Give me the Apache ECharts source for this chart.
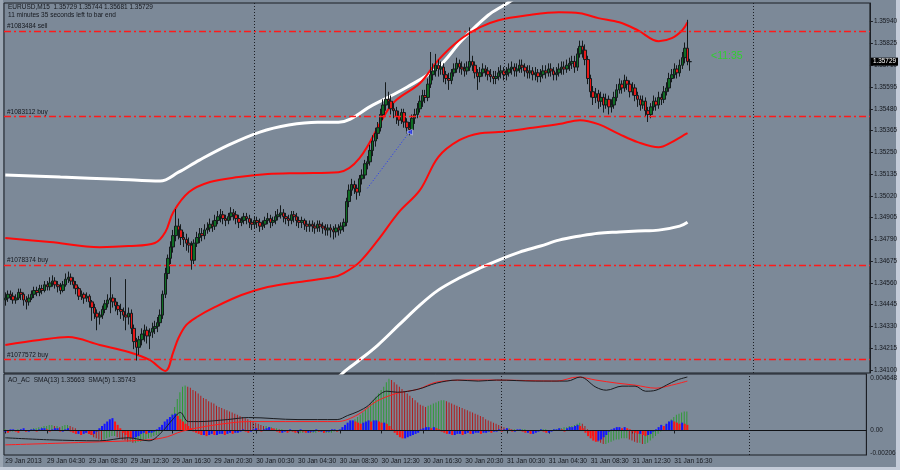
<!DOCTYPE html>
<html><head><meta charset="utf-8">
<script src="https://cdn.jsdelivr.net/npm/echarts@6/dist/echarts.min.js"></script>
<style>html,body{margin:0;padding:0;background:#aeb8c4;}#c{width:900px;height:470px;}</style>
</head><body><div id="c"></div><script>
// ---------- data ----------
const timeLabels = ['29 Jan 2013','29 Jan 04:30','29 Jan 08:30','29 Jan 12:30','29 Jan 16:30','29 Jan 20:30','30 Jan 00:30','30 Jan 04:30','30 Jan 08:30','30 Jan 12:30','30 Jan 16:30','30 Jan 20:30','31 Jan 00:30','31 Jan 04:30','31 Jan 08:30','31 Jan 12:30','31 Jan 16:30'];
const priceTicks = [1.35940,1.35825,1.35710,1.35595,1.35480,1.35365,1.35250,1.35135,1.35020,1.34905,1.34790,1.34675,1.34560,1.34445,1.34330,1.34215,1.34100];
const indTicks = [0.004648, 0, -0.00206];
const indTickLabels = ['0.004648','0.00','-0.00206'];
const lastPrice = 1.35729;
const orderLevels = [1.35892, 1.35438, 1.34655, 1.34156];
const orderLabels = ['#1083484 sell','#1083112 buy','#1078374 buy','#1077572 buy'];
const daySeparators = [95, 190, 285];
// [open, close, low, high]
const ohlc = [
[1.3447,1.3448,1.3444,1.3451],[1.3448,1.3450,1.3446,1.3452],[1.3450,1.3449,1.3447,1.3452],[1.3449,1.3447,1.3445,1.3451],[1.3447,1.3448,1.3445,1.3450],
[1.3448,1.3451,1.3447,1.3453],[1.3451,1.3450,1.3447,1.3453],[1.3450,1.3447,1.3444,1.3451],[1.3447,1.3446,1.3442,1.3449],[1.3446,1.3448,1.3444,1.3450],
[1.3448,1.3450,1.3447,1.3452],[1.3450,1.3452,1.3448,1.3454],[1.3452,1.3451,1.3449,1.3454],[1.3451,1.3453,1.3449,1.3455],[1.3453,1.3452,1.3450,1.3455],
[1.3452,1.3455,1.3451,1.3457],[1.3455,1.3454,1.3452,1.3457],[1.3454,1.3456,1.3452,1.3459],[1.3456,1.3457,1.3454,1.3460],[1.3457,1.3455,1.3453,1.3459],
[1.3455,1.3454,1.3451,1.3457],[1.3454,1.3452,1.3450,1.3456],[1.3452,1.3455,1.3451,1.3457],[1.3455,1.3458,1.3454,1.3461],[1.3458,1.3459,1.3456,1.3462],
[1.3459,1.3457,1.3455,1.3461],[1.3457,1.3455,1.3453,1.3459],[1.3455,1.3453,1.3450,1.3457],[1.3453,1.3449,1.3447,1.3454],[1.3449,1.3450,1.3447,1.3452],
[1.3450,1.3448,1.3445,1.3451],[1.3448,1.3449,1.3446,1.3451],[1.3449,1.3446,1.3443,1.3450],[1.3446,1.3443,1.3436,1.3447],[1.3443,1.3440,1.3437,1.3445],
[1.3440,1.3438,1.3431,1.3442],[1.3438,1.3439,1.3434,1.3441],[1.3439,1.3442,1.3437,1.3444],[1.3442,1.3445,1.3440,1.3447],[1.3445,1.3447,1.3443,1.3450],
[1.3447,1.3448,1.3440,1.3459],[1.3448,1.3446,1.3443,1.3450],[1.3446,1.3444,1.3441,1.3448],[1.3444,1.3442,1.3439,1.3446],[1.3442,1.3441,1.3437,1.3445],
[1.3441,1.3439,1.3436,1.3443],[1.3439,1.3438,1.3431,1.3458],[1.3438,1.3440,1.3434,1.3443],[1.3440,1.3432,1.3429,1.3442],[1.3432,1.3425,1.3421,1.3434],
[1.3425,1.3422,1.3415,1.3427],[1.3422,1.3426,1.3418,1.3428],[1.3426,1.3429,1.3423,1.3432],[1.3429,1.3431,1.3425,1.3434],[1.3431,1.3428,1.3424,1.3433],
[1.3428,1.3430,1.3421,1.3432],[1.3430,1.3432,1.3427,1.3435],[1.3432,1.3433,1.3429,1.3436],[1.3433,1.3435,1.3430,1.3438],[1.3435,1.3439,1.3433,1.3442],
[1.3439,1.3450,1.3437,1.3452],[1.3450,1.3461,1.3448,1.3464],[1.3461,1.3469,1.3458,1.3471],[1.3469,1.3475,1.3466,1.3478],[1.3475,1.3481,1.3472,1.3484],
[1.3481,1.3486,1.3478,1.3495],[1.3486,1.3484,1.3479,1.3490],[1.3484,1.3480,1.3476,1.3487],[1.3480,1.3479,1.3475,1.3483],[1.3479,1.3477,1.3473,1.3482],
[1.3477,1.3476,1.3472,1.3480],[1.3476,1.3468,1.3463,1.3478],[1.3468,1.3477,1.3466,1.3479],[1.3477,1.3480,1.3475,1.3483],[1.3480,1.3482,1.3477,1.3485],
[1.3482,1.3481,1.3478,1.3485],[1.3481,1.3484,1.3479,1.3487],[1.3484,1.3485,1.3482,1.3488],[1.3485,1.3487,1.3483,1.3490],[1.3487,1.3486,1.3483,1.3489],
[1.3486,1.3489,1.3484,1.3492],[1.3489,1.3491,1.3487,1.3494],[1.3491,1.3492,1.3488,1.3495],[1.3492,1.3490,1.3487,1.3494],[1.3490,1.3489,1.3486,1.3492],
[1.3489,1.3491,1.3487,1.3493],[1.3491,1.3493,1.3489,1.3496],[1.3493,1.3492,1.3489,1.3495],[1.3492,1.3490,1.3487,1.3494],[1.3490,1.3488,1.3485,1.3492],
[1.3488,1.3489,1.3486,1.3491],[1.3489,1.3491,1.3487,1.3493],[1.3491,1.3490,1.3487,1.3493],[1.3490,1.3488,1.3485,1.3492],[1.3488,1.3487,1.3484,1.3490],
[1.3487,1.3489,1.3485,1.3491],[1.3489,1.3488,1.3485,1.3491],[1.3488,1.3486,1.3483,1.3490],[1.3486,1.3487,1.3484,1.3489],[1.3487,1.3489,1.3485,1.3491],
[1.3489,1.3490,1.3487,1.3493],[1.3490,1.3488,1.3485,1.3492],[1.3488,1.3489,1.3486,1.3491],[1.3489,1.3491,1.3487,1.3494],[1.3491,1.3492,1.3489,1.3495],
[1.3492,1.3493,1.3490,1.3497],[1.3493,1.3491,1.3488,1.3495],[1.3491,1.3490,1.3487,1.3493],[1.3490,1.3489,1.3486,1.3492],[1.3489,1.3492,1.3487,1.3494],
[1.3492,1.3491,1.3488,1.3494],[1.3491,1.3489,1.3486,1.3493],[1.3489,1.3488,1.3485,1.3491],[1.3488,1.3489,1.3485,1.3491],[1.3489,1.3487,1.3484,1.3490],
[1.3487,1.3486,1.3483,1.3489],[1.3486,1.3487,1.3483,1.3489],[1.3487,1.3486,1.3483,1.3489],[1.3486,1.3485,1.3482,1.3488],[1.3485,1.3487,1.3483,1.3489],
[1.3487,1.3486,1.3483,1.3489],[1.3486,1.3485,1.3482,1.3488],[1.3485,1.3484,1.3481,1.3487],[1.3484,1.3485,1.3481,1.3487],[1.3485,1.3484,1.3480,1.3487],
[1.3484,1.3483,1.3479,1.3486],[1.3483,1.3485,1.3480,1.3487],[1.3485,1.3484,1.3481,1.3487],[1.3484,1.3486,1.3482,1.3488],[1.3486,1.3488,1.3483,1.3490],
[1.3488,1.3499,1.3486,1.3501],[1.3499,1.3505,1.3496,1.3508],[1.3505,1.3508,1.3502,1.3511],[1.3508,1.3506,1.3503,1.3510],[1.3506,1.3504,1.3500,1.3508],
[1.3504,1.3511,1.3502,1.3513],[1.3511,1.3513,1.3508,1.3516],[1.3513,1.3519,1.3511,1.3521],[1.3519,1.3520,1.3516,1.3523],[1.3520,1.3526,1.3518,1.3529],
[1.3526,1.3531,1.3523,1.3534],[1.3531,1.3535,1.3528,1.3538],[1.3535,1.3538,1.3532,1.3541],[1.3538,1.3545,1.3536,1.3548],[1.3545,1.3550,1.3542,1.3553],
[1.3550,1.3553,1.3547,1.3562],[1.3553,1.3552,1.3548,1.3557],[1.3552,1.3548,1.3545,1.3555],[1.3548,1.3547,1.3543,1.3551],[1.3547,1.3544,1.3540,1.3549],
[1.3544,1.3542,1.3539,1.3547],[1.3542,1.3546,1.3540,1.3548],[1.3546,1.3541,1.3538,1.3548],[1.3541,1.3538,1.3535,1.3543],[1.3538,1.3537,1.3534,1.3541],
[1.3537,1.3543,1.3535,1.3545],[1.3543,1.3545,1.3540,1.3548],[1.3545,1.3548,1.3543,1.3551],[1.3548,1.3552,1.3546,1.3555],[1.3552,1.3555,1.3549,1.3558],
[1.3555,1.3554,1.3551,1.3558],[1.3554,1.3561,1.3552,1.3564],[1.3561,1.3566,1.3559,1.3578],[1.3566,1.3568,1.3563,1.3572],[1.3568,1.3571,1.3565,1.3577],
[1.3571,1.3569,1.3565,1.3574],[1.3569,1.3570,1.3566,1.3573],[1.3570,1.3566,1.3562,1.3572],[1.3566,1.3564,1.3561,1.3568],[1.3564,1.3563,1.3558,1.3567],
[1.3563,1.3567,1.3561,1.3569],[1.3567,1.3569,1.3565,1.3572],[1.3569,1.3572,1.3567,1.3575],[1.3572,1.3570,1.3567,1.3574],[1.3570,1.3569,1.3566,1.3573],
[1.3569,1.3568,1.3565,1.3572],[1.3568,1.3570,1.3566,1.3573],[1.3570,1.3573,1.3568,1.3591],[1.3573,1.3571,1.3568,1.3576],[1.3571,1.3567,1.3564,1.3573],
[1.3567,1.3565,1.3558,1.3569],[1.3565,1.3567,1.3562,1.3570],[1.3567,1.3569,1.3565,1.3572],[1.3569,1.3568,1.3565,1.3571],[1.3568,1.3566,1.3563,1.3570],
[1.3566,1.3565,1.3562,1.3569],[1.3565,1.3564,1.3561,1.3568],[1.3564,1.3565,1.3561,1.3568],[1.3565,1.3567,1.3563,1.3570],[1.3567,1.3568,1.3564,1.3571],
[1.3568,1.3566,1.3563,1.3570],[1.3566,1.3567,1.3563,1.3570],[1.3567,1.3569,1.3565,1.3572],[1.3569,1.3570,1.3566,1.3573],[1.3570,1.3568,1.3565,1.3572],
[1.3568,1.3569,1.3565,1.3572],[1.3569,1.3571,1.3567,1.3574],[1.3571,1.3570,1.3567,1.3574],[1.3570,1.3568,1.3565,1.3572],[1.3568,1.3567,1.3564,1.3571],
[1.3567,1.3568,1.3564,1.3571],[1.3568,1.3566,1.3563,1.3570],[1.3566,1.3567,1.3563,1.3570],[1.3567,1.3565,1.3562,1.3569],[1.3565,1.3566,1.3562,1.3569],
[1.3566,1.3568,1.3564,1.3571],[1.3568,1.3567,1.3564,1.3571],[1.3567,1.3569,1.3565,1.3572],[1.3569,1.3568,1.3565,1.3572],[1.3568,1.3566,1.3563,1.3570],
[1.3566,1.3567,1.3563,1.3570],[1.3567,1.3569,1.3565,1.3572],[1.3569,1.3570,1.3566,1.3573],[1.3570,1.3569,1.3566,1.3573],[1.3569,1.3571,1.3567,1.3574],
[1.3571,1.3572,1.3568,1.3575],[1.3572,1.3573,1.3569,1.3576],[1.3573,1.3570,1.3567,1.3576],[1.3570,1.3577,1.3568,1.3580],[1.3577,1.3581,1.3575,1.3584],
[1.3581,1.3579,1.3575,1.3584],[1.3579,1.3574,1.3571,1.3582],[1.3574,1.3564,1.3561,1.3576],[1.3564,1.3557,1.3554,1.3566],[1.3557,1.3554,1.3550,1.3560],
[1.3554,1.3556,1.3551,1.3559],[1.3556,1.3552,1.3548,1.3558],[1.3552,1.3554,1.3549,1.3557],[1.3554,1.3550,1.3546,1.3556],[1.3550,1.3553,1.3548,1.3556],
[1.3553,1.3549,1.3545,1.3555],[1.3549,1.3550,1.3546,1.3553],[1.3550,1.3554,1.3548,1.3557],[1.3554,1.3558,1.3552,1.3561],[1.3558,1.3561,1.3556,1.3564],
[1.3561,1.3559,1.3556,1.3563],[1.3559,1.3563,1.3557,1.3566],[1.3563,1.3561,1.3558,1.3565],[1.3561,1.3557,1.3554,1.3563],[1.3557,1.3559,1.3555,1.3562],
[1.3559,1.3555,1.3552,1.3561],[1.3555,1.3553,1.3549,1.3557],[1.3553,1.3550,1.3547,1.3555],[1.3550,1.3552,1.3548,1.3555],[1.3552,1.3547,1.3544,1.3554],
[1.3547,1.3545,1.3541,1.3549],[1.3545,1.3549,1.3543,1.3551],[1.3549,1.3552,1.3547,1.3555],[1.3552,1.3550,1.3547,1.3554],[1.3550,1.3554,1.3548,1.3557],
[1.3554,1.3553,1.3550,1.3556],[1.3553,1.3557,1.3551,1.3560],[1.3557,1.3559,1.3555,1.3562],[1.3559,1.3564,1.3557,1.3567],[1.3564,1.3566,1.3562,1.3569],
[1.3566,1.3569,1.3564,1.3572],[1.3569,1.3567,1.3564,1.3571],[1.3567,1.3571,1.3565,1.3574],[1.3571,1.3575,1.3569,1.3578],[1.3575,1.3580,1.3572,1.3583],
[1.3580,1.3573,1.3571,1.3595],[1.35729,1.35729,1.35681,1.35744]
];
// envelope knots [bar index, price]
const redUpper = [[0,1.34797],[17,1.34776],[36,1.34749],[47,1.34755],[57,1.34771],[61,1.34829],[64,1.34934],[70,1.35040],[78,1.35093],[89,1.35119],[100,1.35135],[112,1.35140],[127,1.35145],[135,1.35219],[145,1.35457],[149,1.35526],[158,1.35615],[165,1.35737],[173,1.35842],[181,1.35911],[188,1.35948],[199,1.35974],[211,1.35990],[219,1.35985],[226,1.35959],[234,1.35937],[241,1.35895],[249,1.35837],[254,1.35853],[258,1.35895],[260,1.35937]];
const redLower = [[0,1.34232],[13,1.34258],[24,1.34274],[36,1.34232],[47,1.34195],[55,1.34153],[61,1.34095],[64,1.34195],[66,1.34269],[69,1.34338],[73,1.34380],[80,1.34433],[90,1.34496],[100,1.34538],[112,1.34565],[125,1.34591],[129,1.34612],[135,1.34670],[142,1.34786],[150,1.34934],[158,1.35050],[165,1.35225],[173,1.35314],[181,1.35351],[188,1.35357],[200,1.35378],[211,1.35399],[219,1.35420],[226,1.35399],[234,1.35346],[241,1.35304],[249,1.35277],[254,1.35304],[258,1.35336],[260,1.35351]];
const whiteUpper = [[0,1.35130],[21,1.35119],[43,1.35108],[59,1.35098],[66,1.35145],[74,1.35209],[85,1.35288],[97,1.35357],[108,1.35394],[119,1.35409],[127,1.35409],[140,1.35499],[153,1.35594],[165,1.35700],[174,1.35842],[184,1.35974],[190,1.36027],[196,1.36080],[200,1.36133]];
const whiteLower = [[118,1.33942],[129,1.34089],[135,1.34153],[142,1.34232],[150,1.34338],[158,1.34443],[165,1.34522],[173,1.34586],[181,1.34639],[188,1.34681],[196,1.34723],[204,1.34755],[211,1.34786],[219,1.34808],[226,1.34823],[234,1.34829],[241,1.34834],[249,1.34839],[257,1.34860],[260,1.34881]];
const tradeLine = [[138,1.35060],[154,1.35357]];
// indicator window
const ao = [0.0001,0,-0.0001,-0.0001,0,0.0001,0.0001,0,-0.0001,0,0.0001,0.0002,0.0002,
0.0003,0.0003,0.0004,0.0004,0.0005,0.0005,0.0004,0.0004,0.0003,0.0004,0.0005,0.0005,0.0004,0.0003,
0.0002,0,-0.0001,-0.0001,-0.0002,-0.0003,-0.0004,
-0.0006,-0.0007,-0.0008,-0.0009,-0.0008,-0.0007,-0.0006,
-0.0005,-0.0005,-0.0006,
-0.0007,-0.0008,-0.0009,-0.0010,-0.0010,-0.0011,-0.0011,-0.0010,
-0.0010,-0.0009,-0.0008,-0.0007,-0.0006,-0.0005,-0.0004,
-0.0003,-0.0001,0.0002,0.0006,
0.0010,0.0015,0.0021,0.0028,0.0034,0.0039,0.0040,
0.0039,0.0038,0.0036,0.0035,0.0033,0.0031,0.0029,0.0028,0.0026,0.0025,0.0024,0.0022,0.0021,0.0020,0.0019,0.0018,0.0017,0.0016,0.0015,0.0014,0.0013,0.0012,0.0011,0.0010,0.0009,0.0008,0.0007,
0.0006,0.0005,0.0004,0.0004,0.0003,0.0003,0.0002,0.0002,0.0001,0.0001,0,0,-0.0001,-0.0001,-0.0001,-0.0002,
-0.0002,-0.0002,-0.0001,-0.0001,-0.0002,-0.0002,-0.0002,-0.0001,-0.0001,-0.0002,-0.0002,-0.0002,-0.0002,-0.0001,-0.0001,0,
0.0001,0.0002,0.0004,0.0006,0.0008,0.0010,0.0012,0.0014,0.0016,0.0019,0.0021,0.0024,0.0027,0.0030,0.0033,0.0036,0.0039,0.0043,0.0046,
0.0045,0.0043,0.0041,0.0039,0.0037,0.0035,0.0033,0.0031,0.0029,0.0027,0.0025,0.0023,0.0022,
0.0021,0.0022,0.0023,0.0024,0.0025,0.0026,0.0027,0.0027,
0.0026,0.0025,0.0024,0.0023,0.0022,0.0021,0.0020,0.0019,0.0018,0.0017,0.0016,0.0015,0.0014,0.0013,0.0012,0.0010,0.0009,0.0008,0.0007,0.0006,0.0005,0.0004,0.0003,0.0002,0.0002,
0.0001,0.0001,0,0,0.0001,0.0001,0,-0.0001,-0.0001,0,0,0.0001,0.0001,0.0001,0,0,0.0001,0.0001,0.0002,0.0002,0.0003,0.0003,0.0004,
0.0004,0.0005,0.0006,0.0007,0.0006,0.0004,0.0001,-0.0002,-0.0005,-0.0008,-0.0010,-0.0011,-0.0012,-0.0012,
-0.0011,-0.0010,-0.0009,-0.0008,-0.0008,-0.0007,-0.0007,-0.0007,-0.0008,-0.0009,-0.0010,-0.0011,-0.0011,-0.0012,-0.0012,-0.0011,-0.0009,-0.0007,-0.0005,-0.0003,-0.0001,0.0002,0.0005,0.0008,0.0010,0.0012,0.0014,0.0015,0.0016,0.0017,0.0017];
const ac = [-0.0001,-0.0002,0.0001,0.0001,-0.0001,-0.0002,0.0001,0.0002,-0.0001,-0.0001,0.0001,0.0001,-0.0001,
0.0001,0.0002,0.0002,0.0001,-0.0001,0.0001,0.0002,0.0002,-0.0001,-0.0001,0.0001,0.0002,-0.0001,
-0.0002,-0.0003,-0.0003,-0.0004,-0.0003,-0.0002,-0.0003,-0.0004,
-0.0003,-0.0001,0.0002,0.0004,0.0006,0.0008,0.0010,0.0011,0.0008,0.0005,0.0002,-0.0002,-0.0004,-0.0006,-0.0007,-0.0007,-0.0006,-0.0005,-0.0003,-0.0002,
-0.0003,-0.0002,-0.0002,-0.0001,0.0001,
0.0003,0.0005,0.0008,0.0010,0.0012,0.0014,0.0015,0.0013,
0.0010,0.0008,0.0006,0.0004,0.0002,-0.0001,-0.0002,
-0.0003,-0.0004,-0.0004,-0.0005,-0.0004,-0.0003,-0.0004,-0.0004,-0.0003,-0.0003,-0.0004,-0.0003,-0.0002,-0.0003,-0.0002,
-0.0002,-0.0001,0.0001,-0.0001,-0.0002,-0.0001,0.0001,0.0002,0.0001,-0.0001,0.0001,0.0002,0.0003,0.0002,0.0001,-0.0001,
-0.0002,-0.0002,-0.0001,-0.0002,0.0001,-0.0001,-0.0002,-0.0001,0.0001,-0.0001,-0.0002,-0.0002,-0.0001,-0.0001,0.0001,-0.0001,-0.0001,-0.0002,-0.0001,-0.0001,0.0001,0.0001,-0.0001,0.0001,
0.0003,0.0005,0.0007,0.0009,0.0009,0.0008,0.0007,0.0006,0.0007,0.0008,0.0009,0.0008,0.0009,0.0009,0.0008,0.0007,0.0007,0.0006,0.0004,
0.0001,-0.0002,-0.0004,-0.0006,-0.0007,-0.0007,-0.0006,-0.0005,-0.0004,-0.0003,-0.0002,
0.0001,0.0002,0.0003,0.0003,0.0002,0.0003,0.0002,0.0001,-0.0001,-0.0002,
-0.0003,-0.0003,-0.0004,-0.0004,-0.0003,-0.0003,-0.0004,-0.0003,-0.0002,-0.0003,-0.0003,-0.0002,-0.0002,-0.0003,-0.0002,-0.0002,-0.0001,-0.0002,-0.0001,-0.0001,
0.0001,-0.0001,0.0001,0.0002,0.0001,-0.0001,-0.0001,0.0001,0.0001,-0.0001,-0.0002,-0.0002,-0.0003,-0.0003,-0.0002,-0.0001,0.0001,-0.0001,-0.0002,-0.0002,-0.0001,0.0001,0.0001,0.0002,0.0001,-0.0001,0.0002,0.0003,
0.0003,0.0004,0.0005,0.0004,0.0002,-0.0002,
-0.0005,-0.0007,-0.0009,-0.0010,-0.0009,-0.0008,-0.0006,-0.0004,
-0.0001,0.0001,0.0002,0.0003,0.0003,0.0002,0.0003,0.0002,0.0001,-0.0001,
-0.0002,-0.0003,-0.0003,-0.0004,-0.0005,-0.0004,-0.0003,-0.0001,0.0001,
0.0003,0.0005,0.0004,0.0006,0.0008,0.0009,0.0008,0.0007,0.0006,0.0007,0.0006,0.0005];
const sma5 = [[0,1.3454],[17,1.3450],[36,1.3448],[47,1.3454],[55,1.3448],[60,1.3466],[64,1.3490],[67,1.3504],[70,1.3486],[74,1.3486],[85,1.3490],[93,1.3494],[112,1.3490],[127,1.3490],[131,1.3498],[135,1.3506],[139,1.3518],[142,1.3534],[146,1.3546],[150,1.3544],[158,1.3550],[165,1.3562],[173,1.3568],[181,1.3566],[188,1.3568],[203,1.3566],[215,1.3566],[220,1.3574],[226,1.3554],[230,1.3548],[236,1.3556],[241,1.3556],[245,1.3546],[249,1.3548],[253,1.3558],[257,1.3568],[261,1.3574]];
const sma13 = [[0,1.3440],[36,1.3446],[55,1.3450],[62,1.3456],[66,1.3464],[70,1.3470],[74,1.3474],[81,1.3480],[93,1.3486],[112,1.3486],[127,1.3486],[135,1.3500],[142,1.3526],[150,1.3542],[158,1.3550],[165,1.3564],[177,1.3568],[188,1.3568],[211,1.3566],[219,1.3574],[226,1.3568],[234,1.3562],[241,1.3558],[249,1.3552],[255,1.3558],[261,1.3566]];

// ---------- chart ----------
const SLOTS = 330;
const cats = Array.from({length: SLOTS}, (_, i) => i);
const FONT = 'Liberation Sans';
const TXT = '#15181e';
const chart = echarts.init(document.getElementById('c'), null, {renderer: 'canvas'});
const showLabel = i => i % 16 === 0 && i / 16 < timeLabels.length;
const sepStyle = {color: '#1b1e24', width: 1, type: [1, 2]};

const mainMarks = [{yAxis: lastPrice, lineStyle: {color: 'rgba(0,0,0,0)', width: 0},
    label: {show: true, position: 'end', distance: 1, formatter: lastPrice.toFixed(5), backgroundColor: '#000', color: '#fff', padding: [1, 2], fontSize: 6.4, fontFamily: FONT}}]
  .concat(orderLevels.map((v, k) => ({yAxis: v, lineStyle: {color: '#ff1a1a', width: 1.3, type: [7, 3, 2, 3], opacity: 1},
    label: {show: true, position: 'insideStartTop', distance: [3, 1], formatter: orderLabels[k], fontSize: 6.5, fontFamily: FONT, color: TXT}})))
  .concat(daySeparators.map(v => ({xAxis: v, lineStyle: sepStyle, label: {show: false}})));

const option = {
  animation: false,
  backgroundColor: '#7c8998',
  grid: [
    {left: 4, right: 30, top: 3, height: 370, show: true, borderColor: '#1b1e24', borderWidth: 1},
    {left: 4, right: 30, top: 374, height: 81, show: true, borderColor: '#1b1e24', borderWidth: 1}
  ],
  xAxis: [
    {type: 'category', gridIndex: 0, data: cats, boundaryGap: true, axisLine: {show: false}, axisTick: {show: false}, axisLabel: {show: false}, splitLine: {show: false}},
    {type: 'category', gridIndex: 1, data: cats, boundaryGap: true,
     axisLine: {show: true, lineStyle: {color: '#1b1e24'}},
     axisTick: {show: true, alignWithLabel: true, interval: (i) => showLabel(i), length: 3, lineStyle: {color: '#1b1e24'}},
     axisLabel: {show: true, interval: (i) => showLabel(i), align: 'left', margin: 3, fontSize: 6.6, fontFamily: FONT, color: TXT,
       formatter: (v, idx) => timeLabels[idx / 16]},
     splitLine: {show: false}}
  ],
  yAxis: [
    {type: 'value', gridIndex: 0, position: 'right', min: 1.340842, max: 1.360388,
     axisLine: {show: true, lineStyle: {color: '#1b1e24'}},
     axisTick: {show: true, customValues: priceTicks, length: 3, lineStyle: {color: '#1b1e24'}},
     axisLabel: {show: true, customValues: priceTicks, margin: 4, fontSize: 6.4, fontFamily: FONT, color: TXT, formatter: v => v.toFixed(5)},
     splitLine: {show: false}},
    {type: 'value', gridIndex: 1, position: 'right', min: -0.002182, max: 0.005031,
     axisLine: {show: true, lineStyle: {color: '#1b1e24'}},
     axisTick: {show: false},
     axisLabel: {show: true, customValues: indTicks, margin: 4, fontSize: 6.4, fontFamily: FONT, color: TXT,
       formatter: v => { const k = indTicks.findIndex(t => Math.abs(t - v) < 1e-9); return k >= 0 ? indTickLabels[k] : ''; }},
     splitLine: {show: false}},
    {type: 'value', gridIndex: 1, position: 'right', min: 1.3420, max: 1.3580, show: false}
  ],
  series: [
    {type: 'line', name: 'whiteUpper', data: whiteUpper, smooth: 0.35, symbol: 'none', lineStyle: {color: '#ffffff', width: 3}, z: 3},
    {type: 'line', name: 'whiteLower', data: whiteLower, smooth: 0.35, symbol: 'none', lineStyle: {color: '#ffffff', width: 3}, z: 3},
    {type: 'line', name: 'redUpper', data: redUpper, smooth: 0.35, symbol: 'none', lineStyle: {color: '#ff0a0a', width: 2}, z: 3},
    {type: 'line', name: 'redLower', data: redLower, smooth: 0.35, symbol: 'none', lineStyle: {color: '#ff0a0a', width: 2}, z: 3},
    {type: 'line', name: 'trade', data: tradeLine, symbol: 'none', lineStyle: {color: '#2233ff', width: 1, type: [1, 2]}, z: 4},
    {type: 'scatter', name: 'tradeClose', data: [tradeLine[1]], symbol: 'triangle', symbolSize: 6, symbolRotate: 90, itemStyle: {color: '#2a3cff', borderColor: '#fff', borderWidth: 0.5}, z: 5},
    {type: 'candlestick', name: 'EURUSD', xAxisIndex: 0, yAxisIndex: 0, data: ohlc, barWidth: 3, z: 4,
     itemStyle: {color: '#0f6e24', color0: '#e81818', borderColor: '#141a1c', borderColor0: '#141a1c', borderWidth: 1},
     markLine: {symbol: 'none', silent: true, animation: false, precision: 6, data: mainMarks}},
    {type: 'bar', name: 'AO', xAxisIndex: 1, yAxisIndex: 1, data: ao, barWidth: 1, barGap: '-100%',
     itemStyle: {color: p => (p.dataIndex === 0 || ao[p.dataIndex] >= ao[p.dataIndex - 1]) ? '#2f9a35' : '#b01c1c'},
     markLine: {symbol: 'none', silent: true, animation: false, precision: 6, label: {show: false},
       data: [{yAxis: 0, lineStyle: {color: '#101216', width: 1, type: 'solid'}}].concat(daySeparators.map(v => ({xAxis: v, lineStyle: sepStyle})))}},
    {type: 'bar', name: 'AC', xAxisIndex: 1, yAxisIndex: 1, data: ac, barWidth: 2, barGap: '-100%',
     itemStyle: {color: p => (p.dataIndex === 0 || ac[p.dataIndex] >= ac[p.dataIndex - 1]) ? '#1414ff' : '#ff1414'}},
    {type: 'line', name: 'SMA(13)', xAxisIndex: 1, yAxisIndex: 2, data: sma13, smooth: 0.35, symbol: 'none', lineStyle: {color: '#ff1e1e', width: 1}, z: 5},
    {type: 'line', name: 'SMA(5)', xAxisIndex: 1, yAxisIndex: 2, data: sma5, smooth: 0.35, symbol: 'none', lineStyle: {color: '#1a1c20', width: 1}, z: 5}
  ],
  graphic: [
    {type: 'rect', left: 0, top: 0, shape: {width: 3, height: 470}, style: {fill: '#9ba6b3'}, silent: true},
    {type: 'rect', left: 896, top: 0, shape: {width: 4, height: 470}, style: {fill: '#c3cbd8'}, silent: true},
    {type: 'rect', left: 0, top: 467, shape: {width: 900, height: 3}, style: {fill: '#c3cbd8'}, silent: true},
    {type: 'text', left: 8, top: 4, style: {text: 'EURUSD,M15  1.35729 1.35744 1.35681 1.35729', fill: TXT, fontSize: 6.5, fontFamily: FONT}},
    {type: 'text', left: 8, top: 12, style: {text: '11 minutes 35 seconds left to bar end', fill: TXT, fontSize: 6.5, fontFamily: FONT}},
    {type: 'text', left: 8, top: 377, style: {text: 'AO_AC  SMA(13) 1.35663  SMA(5) 1.35743', fill: TXT, fontSize: 6.5, fontFamily: FONT}},
    {type: 'text', left: 711, top: 51, style: {text: '<11:35', fill: '#2fd02f', fontSize: 10.5, fontFamily: FONT}}
  ]
};
chart.setOption(option);
</script></body></html>
